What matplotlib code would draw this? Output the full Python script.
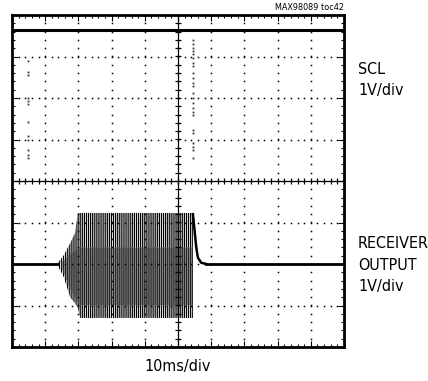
import matplotlib
matplotlib.use("Agg")
import matplotlib.pyplot as plt
import numpy as np

plt.rcParams['font.family'] = ['DejaVu Sans']
plt.rcParams['font.stretch'] = 'condensed'
plt.rcParams['hatch.linewidth'] = 0.9
plt.rcParams['hatch.color'] = 'black'

# scope screen: 10 x 8 divisions, y centred on 0
n_xdiv, n_ydiv = 10, 8

# SCL channel: held high for the whole sweep
scl_level = 3.65
# sparse glitch dots seen on the SCL channel
glitch_x = [0.49] * 12 + [5.44] * 24
glitch_y = [2.89, 2.63, 2.55, 2.0, 1.93, 1.86, 1.42, 1.08, 0.99, 0.75, 0.63, 0.55,
            3.40, 3.31, 3.21, 3.13, 3.06, 2.96, 2.84, 2.77, 2.60, 2.48, 2.36, 2.29,
            2.12, 2.00, 1.88, 1.76, 1.66, 1.59, 1.23, 1.16, 0.92, 0.82, 0.75, 0.55]

# receiver output: idle level, burst envelope and decay after the burst
rx_base = -2.0
burst_t = [1.35, 1.55, 1.75, 1.90, 1.98, 2.05, 5.45]
burst_hi = [-2.0, -1.8, -1.5, -1.25, -0.78, -0.77, -0.77]
burst_lo = [-2.0, -2.3, -2.8, -2.95, -3.05, -3.30, -3.30]
core_t = [1.50, 1.75, 2.05, 5.45]
core_hi = [-1.95, -1.75, -1.6, -1.6]
core_lo = [-2.1, -2.6, -3.0, -3.0]
decay_t = [5.45, 5.50, 5.55, 5.60, 5.70, 5.85]
decay_y = [-0.80, -1.20, -1.60, -1.85, -1.97, -2.0]

fig = plt.figure(figsize=(4.28, 3.81), dpi=100)
ax = fig.add_axes([12 / 428, 34 / 381, 332 / 428, 332 / 381])
ax.set_xlim(0, n_xdiv)
ax.set_ylim(-n_ydiv / 2, n_ydiv / 2)

# frame with inward ticks every 1/5 div
for s in ax.spines.values():
    s.set_linewidth(2)
ax.set_xticks(np.arange(0, n_xdiv + 1, 1))
ax.set_yticks(np.arange(-4, 5, 1))
ax.set_xticks(np.arange(0, n_xdiv, 0.2), minor=True)
ax.set_yticks(np.arange(-4, 4, 0.2), minor=True)
ax.tick_params(which='both', direction='in', top=True, right=True,
               labelbottom=False, labelleft=False, width=0.8)
ax.tick_params(which='major', length=4)
ax.tick_params(which='minor', length=2.5)

# dotted graticule
dots_y = np.arange(-4, 4.01, 0.2)
dots_x = np.arange(0, 10.01, 0.2)
for i in range(1, n_xdiv):
    if i != 5:
        ax.plot(np.full_like(dots_y, i), dots_y, ls='none', marker='s',
                ms=1.1, mew=0, color='black')
for j in range(-3, 4):
    if j != 0:
        ax.plot(dots_x, np.full_like(dots_x, j), ls='none', marker='s',
                ms=1.1, mew=0, color='black')

# centre crosshair with small ticks
ax.axvline(5, color='black', lw=0.9)
ax.axhline(0, color='black', lw=0.9)
ax.plot(np.full_like(dots_y, 5), dots_y, ls='none', marker='_', ms=4.5,
        mew=0.9, color='black')
ax.plot(dots_x, np.zeros_like(dots_x), ls='none', marker='|', ms=4.5,
        mew=0.9, color='black')

# SCL trace
ax.plot([0, n_xdiv], [scl_level, scl_level], color='black', lw=2.2,
        solid_capstyle='butt')
ax.plot(glitch_x, glitch_y, ls='none', marker='s', ms=1.3, mew=0,
        color='#333333')

# receiver output trace
ax.plot([0, burst_t[0]], [rx_base, rx_base], color='black', lw=2.0)
ax.plot([decay_t[-1], n_xdiv], [rx_base, rx_base], color='black', lw=2.0)
ax.plot(decay_t, decay_y, color='black', lw=1.8)
ax.fill_between(burst_t, burst_lo, burst_hi, facecolor='white',
                edgecolor='black', hatch='||||||||', lw=0)
ax.fill_between(core_t, core_lo, core_hi, facecolor='#9a9a9a',
                edgecolor='#222222', hatch='||||||||', lw=0)

# labels
lab = dict(ha='left', va='center', fontsize=11.5)
fig.text(344 / 428, 1 - 7 / 381, 'MAX98089 toc42', ha='right', va='center',
         fontsize=6.5)
fig.text(358 / 428, 1 - 69 / 381, 'SCL', **lab)
fig.text(358 / 428, 1 - 91 / 381, '1V/div', **lab)
fig.text(358 / 428, 1 - 243 / 381, 'RECEIVER', **lab)
fig.text(358 / 428, 1 - 265 / 381, 'OUTPUT', **lab)
fig.text(358 / 428, 1 - 287 / 381, '1V/div', **lab)
fig.text(178 / 428, 1 - 366 / 381, '10ms/div', ha='center', va='center',
         fontsize=11.5)

fig.savefig('out.png', dpi=100)
